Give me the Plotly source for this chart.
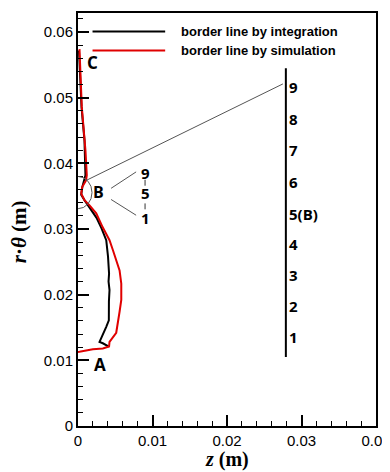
import plotly.graph_objects as go

# ---- data ----
integ_z = [0.00013, 0.00047, 0.00087, 0.00100, 0.00060, 0.00043, 0.00087, 0.00155,
           0.00249, 0.00316, 0.00379, 0.00403, 0.00417, 0.00410, 0.00423, 0.00415,
           0.00417, 0.00414, 0.00379, 0.00296, 0.00289, 0.00333, 0.00414]
integ_r = [0.0572, 0.0486, 0.0435, 0.0382, 0.0365, 0.0352, 0.0344, 0.0333,
           0.0317, 0.0301, 0.0283, 0.0258, 0.0232, 0.0220, 0.0207, 0.0190,
           0.0177, 0.0161, 0.0151, 0.0131, 0.0128, 0.0126, 0.0121]

sim_z = [0.00020, 0.00051, 0.00100, 0.00118, 0.00108, 0.00056, 0.00043, 0.00087,
         0.00155, 0.00245, 0.00330, 0.00423, 0.00468, 0.00513, 0.00558, 0.00581,
         0.00581, 0.00558, 0.00535, 0.00513, 0.00423, 0.00417, 0.00333, 0.00199,
         0.00020, 0.0]
sim_r = [0.0574, 0.0486, 0.0420, 0.0382, 0.0374, 0.0364, 0.0354, 0.0344,
         0.0336, 0.0324, 0.0303, 0.0283, 0.0268, 0.0253, 0.0237, 0.0217,
         0.0192, 0.0174, 0.0159, 0.0142, 0.0128, 0.0121, 0.0118, 0.0117,
         0.0113, 0.01128]

series_names = ["border line by integration", "border line by simulation"]
point_labels = ["A", "B", "C"]
scale_labels = ["9", "8", "7", "6", "5(B)", "4", "3", "2", "1"]
mini_labels = ["9", "5", "1"]
x_ticks = [0, 0.01, 0.02, 0.03, 0.04]
x_tick_text = ["0", "0.01", "0.02", "0.03", "0.04"]
y_ticks = [0, 0.01, 0.02, 0.03, 0.04, 0.05, 0.06]
y_tick_text = ["0", "0.01", "0.02", "0.03", "0.04", "0.05", "0.06"]

fig = go.Figure()
fig.add_trace(go.Scatter(x=integ_z, y=integ_r, mode="lines", name=series_names[0],
                         line=dict(color="black", width=2)))
fig.add_trace(go.Scatter(x=sim_z, y=sim_r, mode="lines", name=series_names[1],
                         line=dict(color="#e00000", width=2)))

shapes = []
annotations = []

# legend (manual)
leg_y = [0.0601, 0.0572]
leg_col = ["black", "#e00000"]
for yv, c, name in zip(leg_y, leg_col, series_names):
    shapes.append(dict(type="line", xref="x", yref="y", x0=0.00195, x1=0.0117, y0=yv, y1=yv,
                       line=dict(color=c, width=2)))
    annotations.append(dict(x=0.0135, y=yv, xref="x", yref="y", text=name, showarrow=False,
                            xanchor="left", yanchor="middle",
                            font=dict(family="Liberation Sans", size=13, color="black", weight="bold")))

# circle around B
shapes.append(dict(type="circle", xref="x", yref="y", x0=-0.00184, x1=0.00188,
                   y0=0.0331, y1=0.0380, line=dict(color="#555555", width=1)))
# line from circle to scale top
shapes.append(dict(type="line", xref="x", yref="y", x0=0.0011, y0=0.0374, x1=0.0275, y1=0.0521,
                   line=dict(color="#555555", width=1)))
# lines from B to mini 9 and 1
shapes.append(dict(type="line", xref="x", yref="y", x0=0.00444, y0=0.0362, x1=0.0078, y1=0.0387,
                   line=dict(color="#555555", width=1)))
shapes.append(dict(type="line", xref="x", yref="y", x0=0.00444, y0=0.0345, x1=0.0078, y1=0.0321,
                   line=dict(color="#555555", width=1)))
# small connectors between mini labels
shapes.append(dict(type="line", xref="x", yref="y", x0=0.0090, y0=0.0366, x1=0.0090, y1=0.0375,
                   line=dict(color="#333333", width=1)))
shapes.append(dict(type="line", xref="x", yref="y", x0=0.0090, y0=0.0330, x1=0.0090, y1=0.0339,
                   line=dict(color="#333333", width=1)))
# vertical scale bar
shapes.append(dict(type="line", xref="x", yref="y", x0=0.0279, y0=0.0105, x1=0.0279, y1=0.0545,
                   line=dict(color="black", width=2)))

lab_font = dict(family="Open Sans", size=15, color="black", weight="bold")
scale_y = [0.0516, 0.0468, 0.0420, 0.0371, 0.0323, 0.0277, 0.0230, 0.0183, 0.01355]
for t, yv in zip(scale_labels, scale_y):
    annotations.append(dict(x=0.0281, y=yv, xref="x", yref="y", text=t, showarrow=False,
                            xanchor="left", yanchor="middle", font=lab_font))
mini_y = [0.0385, 0.0355, 0.0317]
for t, yv in zip(mini_labels, mini_y):
    annotations.append(dict(x=0.0090, y=yv, xref="x", yref="y", text=t, showarrow=False,
                            xanchor="center", yanchor="middle", font=lab_font))

pt_pos = [(0.0029, 0.0093), (0.0028, 0.0356), (0.0019, 0.0554)]
pt_size = [17, 16, 17]
for t, (xv, yv), s in zip(point_labels, pt_pos, pt_size):
    annotations.append(dict(x=xv, y=yv, xref="x", yref="y", text=t, showarrow=False,
                            xanchor="center", yanchor="middle",
                            font=dict(family="Open Sans", size=s, color="black", weight="bold")))

# axis titles
annotations.append(dict(x=0.5, y=-0.08, xref="paper", yref="paper",
                        text="<i>z</i> (m)", showarrow=False, xanchor="center", yanchor="middle",
                        font=dict(family="Liberation Serif", size=20, color="black", weight="bold")))
annotations.append(dict(x=-0.2, y=0.47, xref="paper", yref="paper", textangle=-90,
                        text="<i>r</i>·<i>θ</i> (m)", showarrow=False, xanchor="center", yanchor="middle",
                        font=dict(family="Liberation Serif", size=21, color="black", weight="bold")))

axis_common = dict(showgrid=False, zeroline=False, showline=True, linecolor="black", linewidth=2,
                   mirror=True, ticks="inside", ticklen=11, tickwidth=2, tickcolor="black",
                   automargin=False, ticklabeloverflow="allow",
                   tickfont=dict(family="Liberation Sans", size=15, color="black"))

# page body has an 8px margin, so the figure is sized to fit the 390x472 window
fig.update_layout(
    width=382, height=464,
    margin=dict(l=70, r=14, t=5, b=46),
    paper_bgcolor="white", plot_bgcolor="white",
    showlegend=False,
    shapes=shapes, annotations=annotations,
    xaxis=dict(range=[0, 0.04], tickvals=x_ticks, ticktext=x_tick_text,
               minor=dict(ticks="inside", ticklen=5, dtick=0.002, tickwidth=1, tickcolor="black"),
               **axis_common),
    yaxis=dict(range=[0, 0.0629], tickvals=y_ticks, ticktext=y_tick_text,
               minor=dict(ticks="inside", ticklen=5, dtick=0.002, tickwidth=1, tickcolor="black"),
               **axis_common),
)

fig.write_html("out.html")
